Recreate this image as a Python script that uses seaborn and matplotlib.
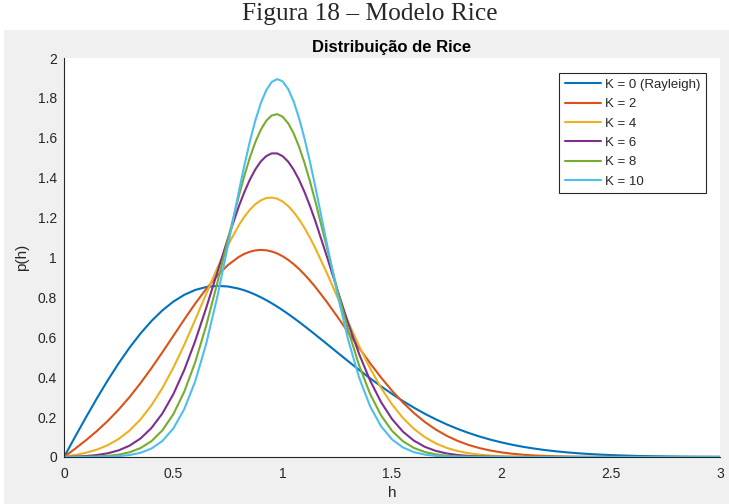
import numpy as np
import pandas as pd
import seaborn as sns
import matplotlib
matplotlib.use("Agg")
from matplotlib import pyplot as plt
from matplotlib.patches import Rectangle

# h grid (step 0.05, finer 0.025 around the peaks) and p(h) for each K
h = [0.00, 0.05, 0.10, 0.15, 0.20, 0.25, 0.30, 0.35, 0.40, 0.45,
     0.50, 0.55, 0.60, 0.65, 0.70, 0.75,
     0.80, 0.825, 0.85, 0.875, 0.90, 0.925, 0.95, 0.975,
     1.00, 1.025, 1.05, 1.075, 1.10, 1.125,
     1.15, 1.20, 1.25, 1.30, 1.35, 1.40, 1.45,
     1.50, 1.55, 1.60, 1.65, 1.70, 1.75, 1.80, 1.85, 1.90, 1.95,
     2.00, 2.05, 2.10, 2.15, 2.20, 2.25, 2.30, 2.35, 2.40, 2.45,
     2.50, 2.55, 2.60, 2.65, 2.70, 2.75, 2.80, 2.85, 2.90, 2.95, 3.00]

p_k0 = [0.0, 0.0998, 0.1980, 0.2933, 0.3843, 0.4697, 0.5484, 0.6193, 0.6817, 0.7350,
        0.7788, 0.8129, 0.8372, 0.8520, 0.8577, 0.8547,
        0.8437, 0.8354, 0.8254, 0.8138, 0.8007, 0.7863, 0.7706, 0.7537,
        0.7358, 0.7169, 0.6973, 0.6770, 0.6560, 0.6346,
        0.6129, 0.5686, 0.5240, 0.4798, 0.4364, 0.3944, 0.3542,
        0.3162, 0.2805, 0.2474, 0.2168, 0.1890, 0.1637, 0.1410, 0.1207, 0.1028, 0.0870,
        0.0733, 0.0613, 0.0510, 0.0423, 0.0348, 0.0285, 0.0232, 0.0188, 0.0151, 0.0121,
        0.0097, 0.0077, 0.0060, 0.0047, 0.0037, 0.0029, 0.0022, 0.0017, 0.0013, 0.0010, 0.0007]

p_k2 = [0.0, 0.0409, 0.0836, 0.1298, 0.1807, 0.2376, 0.3008, 0.3703, 0.4455, 0.5251,
        0.6071, 0.6893, 0.7690, 0.8421, 0.9079, 0.9624,
        1.0034, 1.0182, 1.0290, 1.0356, 1.0380, 1.0362, 1.0302, 1.0202,
        1.0061, 0.9883, 0.9670, 0.9423, 0.9146, 0.8842,
        0.8514, 0.7801, 0.7037, 0.6248, 0.5461, 0.4700, 0.3982,
        0.3322, 0.2729, 0.2207, 0.1757, 0.1378, 0.1064, 0.0809, 0.0606, 0.0447, 0.0324,
        0.0232, 0.0163, 0.0113, 0.0077, 0.0052, 0.0035, 0.0023, 0.0015, 0.0009, 0.0006,
        0.0004, 0.0002, 0.0001, 0.0001, 0.0, 0.0, 0.0, 0.0, 0.0, 0.0, 0.0]

p_k4 = [0.0, 0.0095, 0.0211, 0.0369, 0.0592, 0.0904, 0.1328, 0.1886, 0.2591, 0.3456,
        0.4474, 0.5626, 0.6875, 0.8169, 0.9443, 1.0621,
        1.1629, 1.2046, 1.2395, 1.2670, 1.2866, 1.2978, 1.3005, 1.2947,
        1.2805, 1.2582, 1.2283, 1.1913, 1.1479, 1.0989,
        1.0452, 0.9275, 0.8020, 0.6758, 0.5551, 0.4443, 0.3466,
        0.2637, 0.1955, 0.1413, 0.0996, 0.0684, 0.0458, 0.0299, 0.0190, 0.0118, 0.0071,
        0.0042, 0.0024, 0.0014, 0.0007, 0.0004, 0.0002, 0.0001, 0.0, 0.0, 0.0,
        0.0, 0.0, 0.0, 0.0, 0.0, 0.0, 0.0, 0.0, 0.0, 0.0, 0.0]

p_k6 = [0.0, 0.0019, 0.0047, 0.0098, 0.0185, 0.0333, 0.0569, 0.0930, 0.1455, 0.2184,
        0.3149, 0.4363, 0.5815, 0.7461, 0.9217, 1.0969,
        1.2579, 1.3286, 1.3903, 1.4417, 1.4815, 1.5084, 1.5220, 1.5217,
        1.5078, 1.4806, 1.4407, 1.3894, 1.3278, 1.2576,
        1.1806, 1.0125, 0.8379, 0.6689, 0.5154, 0.3831, 0.2749,
        0.1903, 0.1271, 0.0820, 0.0510, 0.0307, 0.0178, 0.0100, 0.0054, 0.0028, 0.0014,
        0.0007, 0.0003, 0.0001, 0.0001, 0.0, 0.0, 0.0, 0.0, 0.0, 0.0,
        0.0, 0.0, 0.0, 0.0, 0.0, 0.0, 0.0, 0.0, 0.0, 0.0, 0.0]

p_k8 = [0.0, 0.0004, 0.0010, 0.0025, 0.0057, 0.0120, 0.0238, 0.0447, 0.0793, 0.1338,
        0.2144, 0.3270, 0.4750, 0.6574, 0.8674, 1.0915,
        1.3102, 1.4104, 1.5007, 1.5782, 1.6405, 1.6856, 1.7119, 1.7186,
        1.7055, 1.6730, 1.6225, 1.5552, 1.4738, 1.3807,
        1.2787, 1.0596, 0.8386, 0.6341, 0.4580, 0.3161, 0.2084,
        0.1312, 0.0790, 0.0454, 0.0250, 0.0131, 0.0066, 0.0032, 0.0015, 0.0006, 0.0003,
        0.0001, 0.0, 0.0, 0.0, 0.0, 0.0, 0.0, 0.0, 0.0, 0.0,
        0.0, 0.0, 0.0, 0.0, 0.0, 0.0, 0.0, 0.0, 0.0, 0.0, 0.0]

p_k10 = [0.0, 0.0001, 0.0002, 0.0006, 0.0017, 0.0043, 0.0098, 0.0210, 0.0424, 0.0802,
         0.1429, 0.2398, 0.3795, 0.5664, 0.7979, 1.0612,
         1.3331, 1.4625, 1.5819, 1.6869, 1.7737, 1.8388, 1.8796, 1.8944,
         1.8827, 1.8449, 1.7826, 1.6985, 1.5958, 1.4786,
         1.3508, 1.0812, 0.8184, 0.5859, 0.3966, 0.2540, 0.1539,
         0.0882, 0.0478, 0.0245, 0.0119, 0.0055, 0.0024, 0.0010, 0.0004, 0.0001, 0.0001,
         0.0, 0.0, 0.0, 0.0, 0.0, 0.0, 0.0, 0.0, 0.0, 0.0,
         0.0, 0.0, 0.0, 0.0, 0.0, 0.0, 0.0, 0.0, 0.0, 0.0, 0.0]

labels = ['K = 0 (Rayleigh)', 'K = 2', 'K = 4', 'K = 6', 'K = 8', 'K = 10']
series = [p_k0, p_k2, p_k4, p_k6, p_k8, p_k10]
# matlab default line colours
colors = ['#0072BD', '#D95319', '#EDB120', '#7E2F8E', '#77AC30', '#4DBEEE']

xticks = [0, 0.5, 1, 1.5, 2, 2.5, 3]
xticklabels = ['0', '0.5', '1', '1.5', '2', '2.5', '3']
yticks = [0, 0.2, 0.4, 0.6, 0.8, 1.0, 1.2, 1.4, 1.6, 1.8, 2.0]
yticklabels = ['0', '0.2', '0.4', '0.6', '0.8', '1', '1.2', '1.4', '1.6', '1.8', '2']

sns.set_style('white')
plt.rcParams['font.family'] = ['Liberation Sans', 'DejaVu Sans']
axcol = '#262626'

fig = plt.figure(figsize=(7.29, 5.04), dpi=100)
fig.patch.set_facecolor('white')
# grey matlab figure window under the caption
fig.patches.append(Rectangle((4 / 729, 0), 1, 474 / 504, transform=fig.transFigure,
                             facecolor='#f0f0f0', edgecolor='none', zorder=-5))

ax = fig.add_axes([64 / 729, 47 / 504, 656 / 729, 399 / 504])
ax.set_facecolor('white')

df = pd.DataFrame({'h': h})
for lab, vals, c in zip(labels, series, colors):
    df['p'] = vals
    sns.lineplot(data=df, x='h', y='p', ax=ax, color=c, linewidth=1.5, label=lab)

ax.set_xlim(0, 3)
ax.set_ylim(0, 2)
ax.set_xticks(xticks)
ax.set_xticklabels(xticklabels)
ax.set_yticks(yticks)
ax.set_yticklabels(yticklabels)
ax.tick_params(direction='in', length=4, width=0.8, colors=axcol, labelsize=10)
ax.tick_params(axis='x', pad=7)
ax.tick_params(axis='y', pad=5)
for s in ['top', 'right']:
    ax.spines[s].set_visible(False)
for s in ['left', 'bottom']:
    ax.spines[s].set_color(axcol)
    ax.spines[s].set_linewidth(0.8)

ax.set_xlabel('h', fontsize=11, color=axcol, labelpad=4)
ax.set_ylabel('p(h)', fontsize=11, color=axcol, labelpad=6)
ax.set_title('Distribuição de Rice', fontsize=12, fontweight='bold', color='#000000', pad=4.5)

leg = ax.legend(loc='upper right', bbox_to_anchor=(0.9787, 0.9624), borderaxespad=0,
                fontsize=9.5, frameon=True, fancybox=False, framealpha=1,
                handlelength=2.75, handletextpad=0.3, labelspacing=0.54, borderpad=0.42)
leg.get_frame().set_edgecolor('#262626')
leg.get_frame().set_linewidth(0.8)

fig.text(370 / 729, 1 - 14 / 504, 'Figura 18 – Modelo Rice', ha='center', va='center',
         family='Liberation Serif', fontsize=18.3)

fig.savefig('out.png', dpi=100)
